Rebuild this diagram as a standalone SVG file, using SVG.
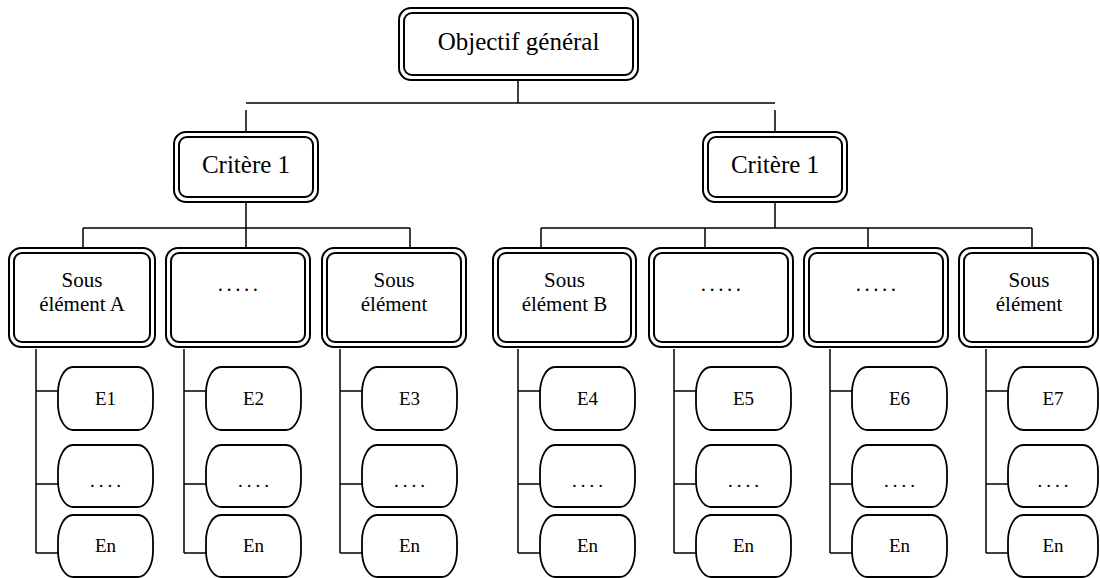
<svg xmlns="http://www.w3.org/2000/svg" width="1100" height="578" viewBox="0 0 1100 578">
<style>
.o{fill:#fff;stroke:#000;stroke-width:2}
.i{fill:none;stroke:#000;stroke-width:2}
.e{fill:#fff;stroke:#000;stroke-width:1.8}
.c{fill:none;stroke:#000;stroke-width:1.5}
.tl{font-family:"Liberation Serif","Times New Roman",serif;font-size:25px;fill:#000;text-anchor:middle}
.tm{font-family:"Liberation Serif","Times New Roman",serif;font-size:21px;fill:#000;text-anchor:middle}
.ts{font-family:"Liberation Serif","Times New Roman",serif;font-size:19px;fill:#000;text-anchor:middle}
</style>
<rect width="1100" height="578" fill="#fff"/>
<g id="connectors" class="c">
<path d="M518,81V103M246,103H775M246,110V131M775,110V131"/>
<path d="M246,203V247M83,228H410M83,228V247M410,228V247"/>
<path d="M775,203V228M541,228H1032M541,228V247M705,228V247M868,228V247M1032,228V247"/>
<path d="M36,349V553M36,391H58M36,484H58M36,553H58"/>
<path d="M184,349V553M184,391H206M184,484H206M184,553H206"/>
<path d="M340,349V553M340,391H362M340,484H362M340,553H362"/>
<path d="M518,349V553M518,391H540M518,484H540M518,553H540"/>
<path d="M674,349V553M674,391H696M674,484H696M674,553H696"/>
<path d="M830,349V553M830,391H852M830,484H852M830,553H852"/>
<path d="M986,349V553M986,391H1008M986,484H1008M986,553H1008"/>
</g>
<g id="objectif">
<rect class="o" x="399" y="8" width="239" height="72" rx="12"/>
<rect class="i" x="404" y="13" width="229" height="62" rx="8"/>
<text class="tl" x="518.5" y="50">Objectif général</text>
</g>
<g id="critere-left">
<rect class="o" x="174" y="132" width="144" height="70" rx="12"/>
<rect class="i" x="179" y="137" width="134" height="60" rx="8"/>
<text class="tl" x="246" y="173">Critère 1</text>
</g>
<g id="critere-right">
<rect class="o" x="703" y="132" width="144" height="70" rx="12"/>
<rect class="i" x="708" y="137" width="134" height="60" rx="8"/>
<text class="tl" x="775" y="173">Critère 1</text>
</g>
<g id="sub-a">
<rect class="o" x="9" y="248" width="146" height="99" rx="12"/>
<rect class="i" x="14" y="253" width="136" height="89" rx="8"/>
<text class="tm" x="82" y="287">Sous</text>
<text class="tm" x="82" y="311">élément A</text>
</g>
<g id="sub-2">
<rect class="o" x="166" y="248" width="144" height="99" rx="12"/>
<rect class="i" x="171" y="253" width="134" height="89" rx="8"/>
<text class="tm" x="239.5" y="291" letter-spacing="3.5">.....</text>
</g>
<g id="sub-3">
<rect class="o" x="322" y="248" width="144" height="99" rx="12"/>
<rect class="i" x="327" y="253" width="134" height="89" rx="8"/>
<text class="tm" x="394" y="287">Sous</text>
<text class="tm" x="394" y="311">élément</text>
</g>
<g id="sub-b">
<rect class="o" x="493" y="248" width="143" height="99" rx="12"/>
<rect class="i" x="498" y="253" width="133" height="89" rx="8"/>
<text class="tm" x="564.5" y="287">Sous</text>
<text class="tm" x="564.5" y="311">élément B</text>
</g>
<g id="sub-5">
<rect class="o" x="649" y="248" width="144" height="99" rx="12"/>
<rect class="i" x="654" y="253" width="134" height="89" rx="8"/>
<text class="tm" x="722.5" y="291" letter-spacing="3.5">.....</text>
</g>
<g id="sub-6">
<rect class="o" x="804" y="248" width="144" height="99" rx="12"/>
<rect class="i" x="809" y="253" width="134" height="89" rx="8"/>
<text class="tm" x="877.5" y="291" letter-spacing="3.5">.....</text>
</g>
<g id="sub-7">
<rect class="o" x="959" y="248" width="139" height="99" rx="12"/>
<rect class="i" x="964" y="253" width="129" height="89" rx="8"/>
<text class="tm" x="1029" y="287">Sous</text>
<text class="tm" x="1029" y="311">élément</text>
</g>
<g id="col1">
<rect class="e" x="58" y="367" width="95" height="63" rx="15" ry="26"/>
<text class="ts" x="105.5" y="405">E1</text>
<rect class="e" x="58" y="445" width="95" height="62" rx="15" ry="26"/>
<text class="ts" x="107.5" y="487" letter-spacing="4">....</text>
<rect class="e" x="58" y="515" width="95" height="62" rx="15" ry="26"/>
<text class="ts" x="105.5" y="552">En</text>
</g>
<g id="col2">
<rect class="e" x="206" y="367" width="95" height="63" rx="15" ry="26"/>
<text class="ts" x="253.5" y="405">E2</text>
<rect class="e" x="206" y="445" width="95" height="62" rx="15" ry="26"/>
<text class="ts" x="255.5" y="487" letter-spacing="4">....</text>
<rect class="e" x="206" y="515" width="95" height="62" rx="15" ry="26"/>
<text class="ts" x="253.5" y="552">En</text>
</g>
<g id="col3">
<rect class="e" x="362" y="367" width="95" height="63" rx="15" ry="26"/>
<text class="ts" x="409.5" y="405">E3</text>
<rect class="e" x="362" y="445" width="95" height="62" rx="15" ry="26"/>
<text class="ts" x="411.5" y="487" letter-spacing="4">....</text>
<rect class="e" x="362" y="515" width="95" height="62" rx="15" ry="26"/>
<text class="ts" x="409.5" y="552">En</text>
</g>
<g id="col4">
<rect class="e" x="540" y="367" width="95" height="63" rx="15" ry="26"/>
<text class="ts" x="587.5" y="405">E4</text>
<rect class="e" x="540" y="445" width="95" height="62" rx="15" ry="26"/>
<text class="ts" x="589.5" y="487" letter-spacing="4">....</text>
<rect class="e" x="540" y="515" width="95" height="62" rx="15" ry="26"/>
<text class="ts" x="587.5" y="552">En</text>
</g>
<g id="col5">
<rect class="e" x="696" y="367" width="95" height="63" rx="15" ry="26"/>
<text class="ts" x="743.5" y="405">E5</text>
<rect class="e" x="696" y="445" width="95" height="62" rx="15" ry="26"/>
<text class="ts" x="745.5" y="487" letter-spacing="4">....</text>
<rect class="e" x="696" y="515" width="95" height="62" rx="15" ry="26"/>
<text class="ts" x="743.5" y="552">En</text>
</g>
<g id="col6">
<rect class="e" x="852" y="367" width="95" height="63" rx="15" ry="26"/>
<text class="ts" x="899.5" y="405">E6</text>
<rect class="e" x="852" y="445" width="95" height="62" rx="15" ry="26"/>
<text class="ts" x="901.5" y="487" letter-spacing="4">....</text>
<rect class="e" x="852" y="515" width="95" height="62" rx="15" ry="26"/>
<text class="ts" x="899.5" y="552">En</text>
</g>
<g id="col7">
<rect class="e" x="1008" y="367" width="90" height="63" rx="15" ry="26"/>
<text class="ts" x="1053" y="405">E7</text>
<rect class="e" x="1008" y="445" width="90" height="62" rx="15" ry="26"/>
<text class="ts" x="1055" y="487" letter-spacing="4">....</text>
<rect class="e" x="1008" y="515" width="90" height="62" rx="15" ry="26"/>
<text class="ts" x="1053" y="552">En</text>
</g>
</svg>
